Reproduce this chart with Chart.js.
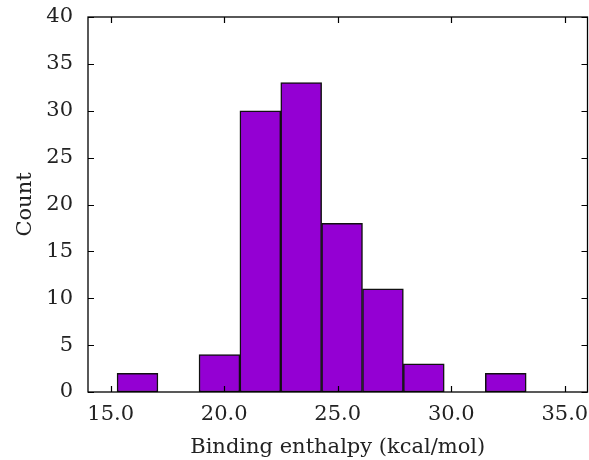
<!DOCTYPE html>
<html>
<head>
<meta charset="utf-8">
<script src="https://cdn.jsdelivr.net/npm/chart.js@4/dist/chart.umd.min.js"></script>
<style>
  html, body { margin: 0; padding: 0; background: #fff; }
  #wrap { width: 589px; height: 460px; }
</style>
</head>
<body>
<div id="wrap"><canvas id="c" width="589" height="460"></canvas></div>
<script>
// Histogram bin centres (kcal/mol) and counts
const binCenters = [16.18, 17.98, 19.79, 21.59, 23.39, 25.19, 26.99, 28.79, 30.60, 32.40];
const counts     = [2, 0, 4, 30, 33, 18, 11, 3, 0, 2];
const xTicks = [15, 20, 25, 30, 35];
const yTicks = [0, 5, 10, 15, 20, 25, 30, 35, 40];
const xTitle = 'Binding enthalpy (kcal/mol)';
const yTitle = 'Count';

const FONT = 'DejaVu Serif';
const FS = 21;

const frameTicks = {
  id: 'frameTicks',
  afterDraw(chart) {
    const {ctx, chartArea: a, scales: {x, y}} = chart;
    ctx.save();
    ctx.strokeStyle = '#000';
    ctx.lineWidth = 1.3;
    ctx.strokeRect(a.left, a.top, a.right - a.left, a.bottom - a.top);
    ctx.lineWidth = 1.2;
    const L = 6;
    ctx.beginPath();
    xTicks.forEach(v => {
      const px = Math.round(x.getPixelForValue(v)) + 0.5;
      ctx.moveTo(px, a.bottom); ctx.lineTo(px, a.bottom - L);
      ctx.moveTo(px, a.top); ctx.lineTo(px, a.top + L);
    });
    yTicks.forEach(v => {
      const py = Math.round(y.getPixelForValue(v)) + 0.5;
      ctx.moveTo(a.left, py); ctx.lineTo(a.left + L, py);
      ctx.moveTo(a.right, py); ctx.lineTo(a.right - L, py);
    });
    ctx.stroke();
    ctx.restore();
  }
};

new Chart(document.getElementById('c'), {
  type: 'bar',
  data: {
    datasets: [{
      data: binCenters.map((c, i) => ({x: c, y: counts[i]})),
      backgroundColor: '#9400d3',
      borderColor: '#111',
      borderWidth: 1.5,
      barPercentage: 1.0,
      categoryPercentage: 1.0,
      borderSkipped: false
    }]
  },
  options: {
    responsive: false,
    animation: false,
    devicePixelRatio: 1,
    layout: { padding: { top: 17, right: 1.5, left: 0, bottom: 0 } },
    plugins: { legend: { display: false }, tooltip: { enabled: false } },
    scales: {
      x: {
        type: 'linear',
        offset: false,
        min: 14, max: 36,
        afterBuildTicks: s => { s.ticks = xTicks.map(v => ({value: v})); },
        afterFit: s => { s.height = 68; s.paddingLeft = 0; s.paddingRight = 0; },
        grid: { display: false, drawTicks: false, offset: false },
        border: { display: false },
        ticks: {
          padding: 10,
          color: '#222',
          font: { family: FONT, size: FS },
          maxRotation: 0,
          callback: v => Number(v).toFixed(1)
        },
        title: {
          display: true, text: xTitle, color: '#222',
          font: { family: FONT, size: FS, lineHeight: 1.2 },
          padding: { top: 0, bottom: 0 }
        }
      },
      y: {
        min: 0, max: 40,
        afterBuildTicks: s => { s.ticks = yTicks.map(v => ({value: v})); },
        afterFit: s => { s.width = 88; s.paddingTop = 0; s.paddingBottom = 0; },
        grid: { display: false, drawTicks: false },
        border: { display: false },
        ticks: {
          padding: 15,
          color: '#222',
          font: { family: FONT, size: FS }
        },
        title: {
          display: true, text: yTitle, color: '#222',
          font: { family: FONT, size: FS, lineHeight: 1.2 },
          padding: { top: 13, bottom: 0 }
        }
      }
    }
  },
  plugins: [frameTicks]
});
</script>
</body>
</html>
